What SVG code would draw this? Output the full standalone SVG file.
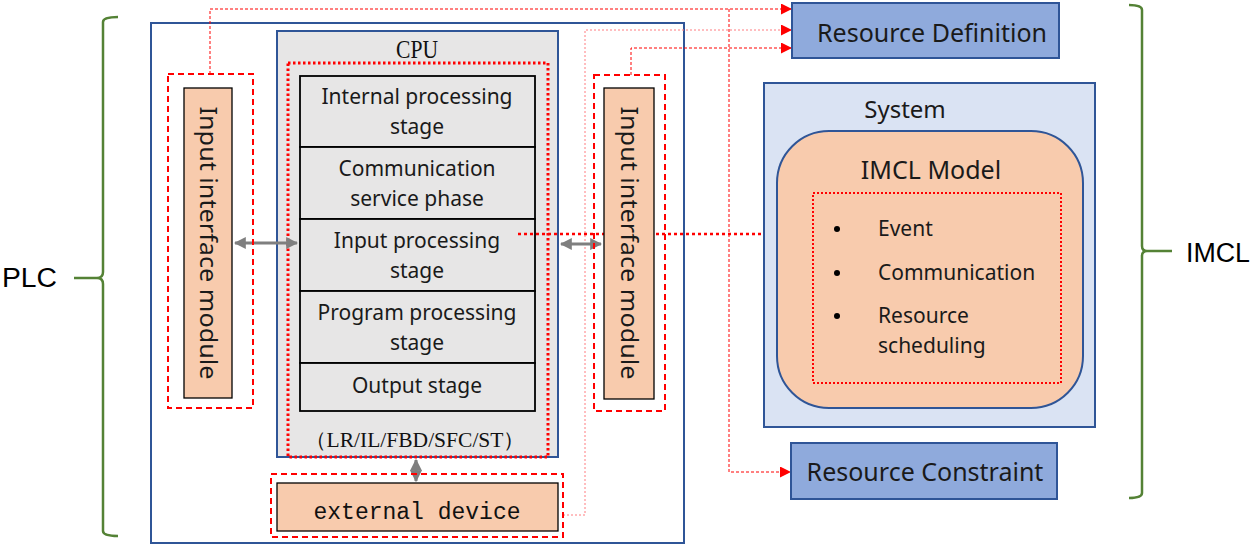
<svg xmlns="http://www.w3.org/2000/svg" width="1251" height="549" viewBox="0 0 1251 549">
<defs>
<style>
.sans{font-family:"Noto Sans","Open Sans","Liberation Sans",sans-serif;fill:#1a1a1a}
.serif{font-family:"Liberation Serif","DejaVu Serif",serif;fill:#111}
.mono{font-family:"Liberation Mono","DejaVu Sans Mono",monospace;fill:#111}
.blue{stroke:#2F5597;stroke-width:2}
.peach{fill:#F8CBAD;stroke:#000;stroke-width:1.3}
.stage{fill:#E7E6E6;stroke:#000;stroke-width:1.8}
.dashbox{fill:none;stroke:#FF0000;stroke-width:2;stroke-dasharray:6 4}
.red{fill:none;stroke:#FF0000;stroke-width:1;stroke-dasharray:3 2}
.gray{fill:none;stroke:#7F7F7F;stroke-width:3}
.brace{fill:none;stroke:#548235;stroke-width:2.5}
</style>
<marker id="ra" viewBox="0 0 10 10" refX="10" refY="5" markerWidth="11" markerHeight="11" markerUnits="userSpaceOnUse" orient="auto"><path d="M0,0 L10,5 L0,10 Z" fill="#FF0000"/></marker>
<marker id="ga" viewBox="0 0 10 10" refX="9" refY="5" markerWidth="4" markerHeight="4" orient="auto-start-reverse"><path d="M0,0 L10,5 L0,10 Z" fill="#7F7F7F"/></marker>
</defs>

<g id="plc-brace">
<path class="brace" d="M118,17 Q103,17 103,22 L103,272 Q103,278 97,278 L74,278 M97,278 Q103,278 103,284 L103,531 Q103,536 118,536"/>
<text x="2" y="287" font-family="Liberation Sans,Arial,sans-serif" font-size="27" textLength="55" lengthAdjust="spacingAndGlyphs" fill="#000">PLC</text>
</g>

<g id="imcl-brace">
<path class="brace" d="M1129,5 Q1142,5 1142,10 L1142,246 Q1142,251 1147,251 L1172,251 M1147,251 Q1142,251 1142,256 L1142,493 Q1142,498 1129,498"/>
<text x="1186" y="262" font-family="Liberation Sans,Arial,sans-serif" font-size="27" textLength="64" lengthAdjust="spacingAndGlyphs" fill="#000">IMCL</text>
</g>

<g id="plc">
<rect x="151" y="23" width="533" height="520" fill="#fff" class="blue"/>
</g>

<g id="cpu">
<rect x="277" y="31" width="281" height="426" fill="#E7E6E6" class="blue"/>
<text x="417" y="58" text-anchor="middle" class="serif" font-size="26" textLength="42" lengthAdjust="spacingAndGlyphs">CPU</text>
<rect x="300" y="76" width="235" height="71" class="stage"/>
<rect x="300" y="147" width="235" height="72" class="stage"/>
<rect x="300" y="219" width="235" height="72" class="stage"/>
<rect x="300" y="291" width="235" height="72" class="stage"/>
<rect x="300" y="363" width="235" height="48" class="stage"/>
<g class="sans" font-size="21" text-anchor="middle">
<text x="417" y="104">Internal processing</text>
<text x="417" y="134">stage</text>
<text x="417" y="176">Communication</text>
<text x="417" y="206">service phase</text>
<text x="417" y="248">Input processing</text>
<text x="417" y="278">stage</text>
<text x="417" y="320">Program processing</text>
<text x="417" y="350">stage</text>
<text x="417" y="393">Output stage</text>
</g>
<text x="305" y="447" class="serif" font-size="21" textLength="220" lengthAdjust="spacingAndGlyphs">（LR/IL/FBD/SFC/ST）</text>
<rect x="288" y="63" width="260" height="394" fill="none" stroke="#FF0000" stroke-width="3" stroke-dasharray="2.5 2.5"/>
</g>

<g id="connectors">
<path class="red" d="M210,74 L210,9 L792,9" marker-end="url(#ra)"/>
<path class="red" d="M729,9 L729,472 L791,472" marker-end="url(#ra)"/>
<path fill="none" stroke="#FF7C80" stroke-width="1" stroke-dasharray="2 2" d="M563,515 L585,515 L585,30 L792,30" marker-end="url(#ra)"/>
<path class="red" d="M631,75 L631,48 L792,48" marker-end="url(#ra)"/>
<path fill="none" stroke="#FF0000" stroke-width="2.5" stroke-dasharray="3 3" d="M518,234 L763,234"/>
<line class="gray" x1="235" y1="243" x2="297" y2="243" marker-start="url(#ga)" marker-end="url(#ga)"/>
<line class="gray" x1="561" y1="244" x2="601" y2="244" marker-start="url(#ga)" marker-end="url(#ga)"/>
<line class="gray" x1="416" y1="460" x2="416" y2="481" marker-start="url(#ga)" marker-end="url(#ga)"/>
</g>

<g id="left-module">
<rect x="168" y="74" width="85" height="334" class="dashbox"/>
<rect x="184" y="88" width="48" height="310" class="peach"/>
<text transform="translate(208,243) rotate(90)" text-anchor="middle" dy="8" class="sans" font-size="23" textLength="273" lengthAdjust="spacingAndGlyphs">Input interface module</text>
</g>

<g id="right-module">
<rect x="594" y="75" width="71" height="336" class="dashbox"/>
<rect x="604" y="88" width="50" height="311" class="peach"/>
<text transform="translate(629,243) rotate(90)" text-anchor="middle" dy="8" class="sans" font-size="23" textLength="273" lengthAdjust="spacingAndGlyphs">Input interface module</text>
</g>

<g id="external-device">
<rect x="271" y="474" width="292" height="63" class="dashbox"/>
<rect x="277" y="483" width="281" height="48" class="peach"/>
<text x="417" y="519" text-anchor="middle" class="mono" font-size="23">external device</text>
</g>

<g id="resource-definition">
<rect x="792" y="3" width="267" height="55" fill="#8FAADC" class="blue"/>
<text x="932" y="42" text-anchor="middle" class="sans" font-size="25">Resource Definition</text>
</g>

<g id="resource-constraint">
<rect x="791" y="443" width="266" height="56" fill="#8FAADC" class="blue"/>
<text x="925" y="481" text-anchor="middle" class="sans" font-size="25">Resource Constraint</text>
</g>

<g id="system">
<rect x="764" y="83" width="331" height="344" fill="#DAE3F3" class="blue"/>
<text x="905" y="118" text-anchor="middle" class="sans" font-size="24">System</text>
</g>

<g id="imcl-model">
<rect x="777" y="131" width="306" height="277" rx="52" ry="52" fill="#F8CBAD" class="blue"/>
<text x="931" y="179" text-anchor="middle" class="sans" font-size="25">IMCL Model</text>
<rect x="813" y="193" width="248" height="190" fill="none" stroke="#FF0000" stroke-width="2" stroke-dasharray="2 2"/>
<circle cx="837" cy="229" r="3" fill="#000"/>
<circle cx="837" cy="273" r="3" fill="#000"/>
<circle cx="837" cy="316" r="3" fill="#000"/>
<g class="sans" font-size="21">
<text x="878" y="236">Event</text>
<text x="878" y="280">Communication</text>
<text x="878" y="323">Resource</text>
<text x="878" y="353">scheduling</text>
</g>
</g>
</svg>
